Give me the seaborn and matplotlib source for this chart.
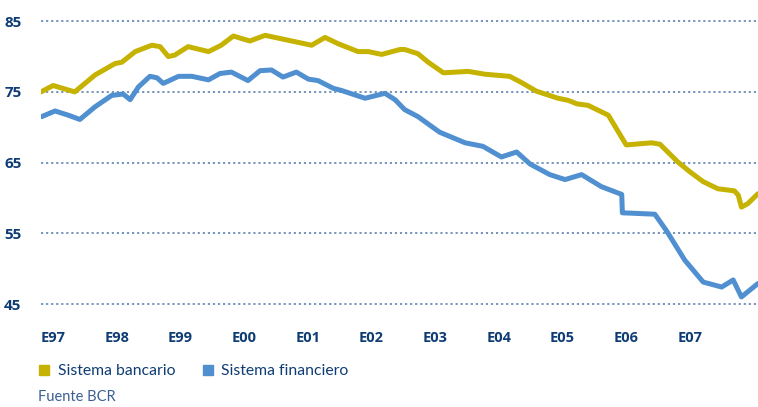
# Bank vs financial system share chart
import pandas as pd
import matplotlib
matplotlib.use("Agg")
import matplotlib.pyplot as plt
import seaborn as sns
from matplotlib.lines import Line2D

# Series values (x in fractional years)
bancario_x = [1997.00, 1997.19, 1997.53, 1997.85, 1998.16, 1998.27, 1998.48, 1998.74, 1998.87,
              1999.00, 1999.10, 1999.31, 1999.63, 1999.83, 2000.02, 2000.28, 2000.52, 2000.78,
              2001.25, 2001.46, 2001.67, 2001.98, 2002.14, 2002.35, 2002.64, 2002.71, 2002.92,
              2003.08, 2003.32, 2003.71, 2003.97, 2004.36, 2004.55, 2004.78, 2005.12, 2005.28,
              2005.42, 2005.59, 2005.91, 2006.19, 2006.59, 2006.72, 2007.00, 2007.19, 2007.40,
              2007.63, 2007.89, 2007.95, 2008.00, 2008.10, 2008.26]
bancario_y = [75.0, 75.9, 75.0, 77.4, 79.0, 79.2, 80.7, 81.6, 81.4,
              80.0, 80.2, 81.4, 80.7, 81.6, 82.9, 82.2, 83.0, 82.5,
              81.6, 82.7, 81.8, 80.7, 80.7, 80.3, 81.0, 81.0, 80.4,
              79.2, 77.7, 77.9, 77.5, 77.2, 76.3, 75.1, 74.1, 73.8,
              73.3, 73.1, 71.7, 67.5, 67.8, 67.6, 65.1, 63.7, 62.3,
              61.3, 61.0, 60.4, 58.7, 59.2, 60.6]

financiero_x = [1997.01, 1997.22, 1997.43, 1997.61, 1997.85, 1998.11, 1998.29, 1998.40, 1998.53,
                1998.71, 1998.82, 1998.92, 1999.16, 1999.37, 1999.63, 1999.81, 1999.99, 2000.25,
                2000.44, 2000.62, 2000.80, 2001.01, 2001.20, 2001.35, 2001.59, 2001.72, 2002.09,
                2002.40, 2002.56, 2002.71, 2002.92, 2003.26, 2003.66, 2003.94, 2004.23, 2004.47,
                2004.68, 2004.99, 2005.23, 2005.49, 2005.80, 2006.12, 2006.13, 2006.64, 2006.82,
                2007.11, 2007.40, 2007.69, 2007.87, 2008.00, 2008.26]
financiero_y = [71.5, 72.3, 71.7, 71.1, 72.9, 74.5, 74.7, 73.9, 75.7,
                77.2, 77.0, 76.2, 77.2, 77.2, 76.7, 77.6, 77.8, 76.6,
                78.0, 78.1, 77.1, 77.8, 76.8, 76.6, 75.5, 75.2, 74.1,
                74.8, 73.9, 72.5, 71.5, 69.3, 67.8, 67.3, 65.8, 66.5,
                64.8, 63.3, 62.6, 63.3, 61.6, 60.5, 57.9, 57.7, 55.4,
                51.2, 48.1, 47.4, 48.4, 46.0, 47.9]

series_names = ["Sistema bancario", "Sistema financiero"]
tick_labels = ["E97", "E98", "E99", "E00", "E01", "E02", "E03", "E04", "E05", "E06", "E07"]
y_ticks = [45, 55, 65, 75, 85]

df = pd.concat([
    pd.DataFrame({"fecha": bancario_x, "valor": bancario_y, "serie": series_names[0]}),
    pd.DataFrame({"fecha": financiero_x, "valor": financiero_y, "serie": series_names[1]}),
])

yellow = "#c6b200"
blue = "#5190d0"
navy = "#0e3c74"
colors = {series_names[0]: yellow, series_names[1]: blue}

sns.set_style("white")
plt.rcParams["font.family"] = ["Open Sans", "DejaVu Sans"]

fig = plt.figure(figsize=(7.58, 4.07), dpi=100)
ax = fig.add_axes([0.0541, 0.227, 0.9459, 0.747])

sns.lineplot(data=df, x="fecha", y="valor", hue="serie", palette=colors,
             estimator=None, sort=False, linewidth=3.6, legend=False, ax=ax)

ax.set_xlim(1997.0, 2008.26)
ax.set_ylim(43.5, 86.5)
ax.set_yticks(y_ticks)
ax.set_yticklabels([str(v) for v in y_ticks], fontsize=11, fontweight="bold", color=navy)
ax.set_xticks([1997.19 + i for i in range(len(tick_labels))])
ax.set_xticklabels(tick_labels, fontsize=10.5, fontweight="bold", color=navy)
ax.tick_params(axis="y", length=0, pad=14)
ax.tick_params(axis="x", length=0, pad=12)
ax.set_xlabel("")
ax.set_ylabel("")
for s in ax.spines.values():
    s.set_visible(False)
ax.grid(False)
for v in y_ticks:
    ax.axhline(v, color="#6a8cb8", linestyle=(0, (1.2, 1.6)), linewidth=1.3, zorder=0)

handles = [Line2D([], [], marker="s", linestyle="", color=colors[n], markersize=7.5) for n in series_names]
fig.legend(handles, series_names, loc="center left", bbox_to_anchor=(0.046, 1 - 371 / 407),
           ncol=2, frameon=False, prop={"family": "Lato", "size": 11.3},
           handletextpad=0.25, columnspacing=1.5, handlelength=1.2,
           labelcolor=navy, borderpad=0, borderaxespad=0)
fig.text(38 / 758, 1 - 397 / 407, "Fuente BCR", fontsize=10.5, family="Lato",
         color="#3c5f8f", va="center")

fig.savefig("out.png", dpi=100)
